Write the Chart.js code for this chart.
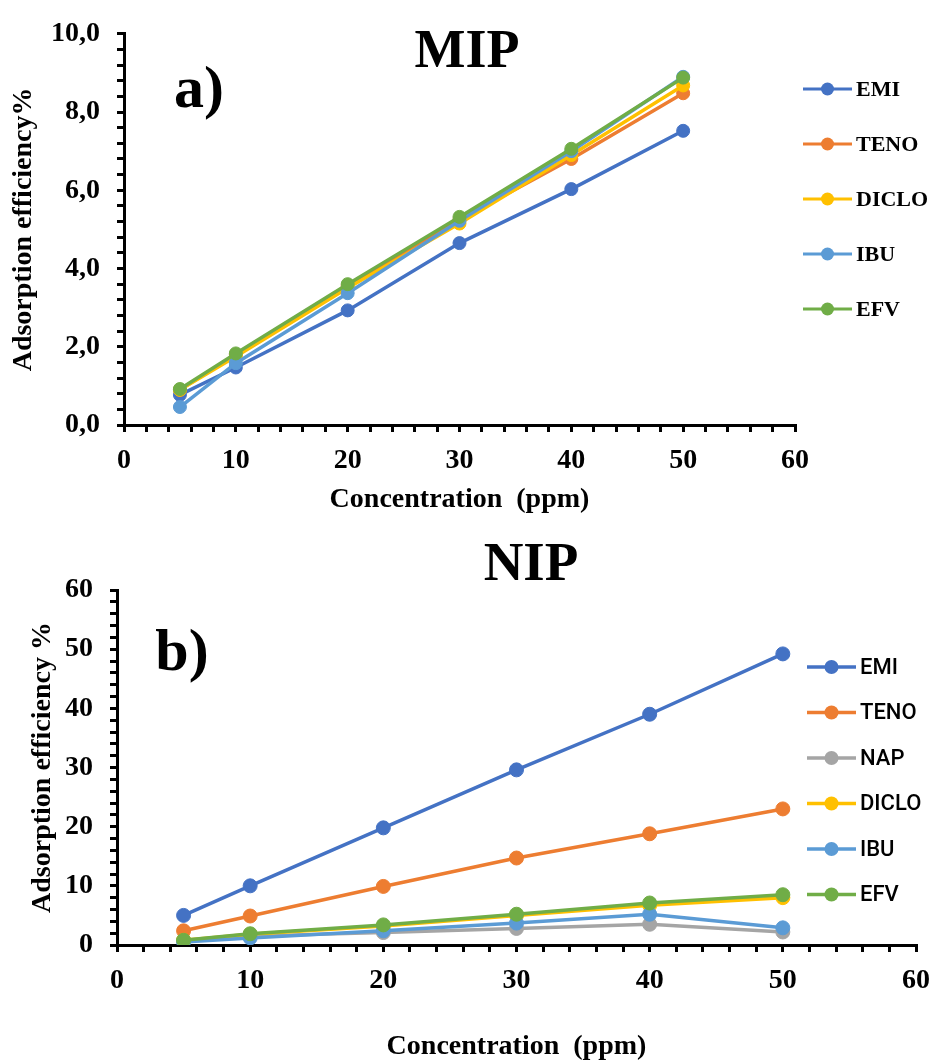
<!DOCTYPE html>
<html>
<head>
<meta charset="utf-8">
<script src="https://cdn.jsdelivr.net/npm/chart.js@4.4.1/dist/chart.umd.min.js"></script>
<style>
    body { margin: 0; background: #fff; }
    canvas { position: absolute; left: 0; }
    #mip { top: 0; }
    #nip { top: 530px; }
</style>
</head>
<body>
<canvas id="mip" width="932" height="520"></canvas>
<canvas id="nip" width="932" height="534"></canvas>
<script>
// data
const concentrations = [5, 10, 20, 30, 40, 50];

const mipLabels = ['EMI', 'TENO', 'DICLO', 'IBU', 'EFV'];
const mipEMI = [0.77, 1.47, 2.93, 4.65, 6.03, 7.52];
const mipTENO = [0.90, 1.80, 3.55, 5.25, 6.80, 8.48];
const mipDICLO = [0.90, 1.75, 3.50, 5.15, 6.90, 8.68];
const mipIBU = [0.46, 1.58, 3.37, 5.22, 7.00, 8.90];
const mipEFV = [0.92, 1.83, 3.60, 5.32, 7.06, 8.88];

const nipLabels = ['EMI', 'TENO', 'NAP', 'DICLO', 'IBU', 'EFV'];
const nipEMI = [5.0, 10.0, 19.8, 29.6, 39.0, 49.2];
const nipTENO = [2.4, 4.9, 9.9, 14.7, 18.8, 23.0];
const nipNAP = [0.7, 1.5, 2.1, 2.8, 3.5, 2.2];
const nipDICLO = [0.8, 1.8, 3.2, 5.0, 6.7, 8.0];
const nipIBU = [0.5, 1.2, 2.4, 3.7, 5.2, 2.9];
const nipEFV = [0.8, 1.9, 3.4, 5.2, 7.1, 8.5];

const colors = {
    EMI: '#4472C4', TENO: '#ED7D31', NAP: '#A5A5A5',
    DICLO: '#FFC000', IBU: '#5B9BD5', EFV: '#70AD47'
};

const serif = "'Liberation Serif', 'Times New Roman', serif";

const toPoints = (ys) => concentrations.map((x, i) => ({ x, y: ys[i] }));

const makeDatasets = (labels, series, radius, width) => labels.map((label, i) => ({
    label,
    data: toPoints(series[i]),
    borderColor: colors[label],
    backgroundColor: colors[label],
    borderWidth: width,
    pointRadius: radius,
    pointHoverRadius: radius,
    pointBorderWidth: 1,
    order: labels.length - i   // last series drawn on top, like the original
}));

// titles ("MIP", "a)") and the line+dot legend
const decorPlugin = {
    id: 'decor',
    afterDraw(chart, args, opts) {
        const ctx = chart.ctx;
        ctx.save();
        ctx.fillStyle = '#000';
        ctx.textAlign = 'center';
        ctx.textBaseline = 'alphabetic';
        ctx.font = `bold ${opts.titleSize}px ${serif}`;
        ctx.fillText(opts.title, opts.titleX, opts.titleY);
        ctx.font = `bold 60px ${serif}`;
        ctx.fillText(opts.tag, opts.tagX, opts.tagY);

        const lg = opts.legend;
        ctx.textAlign = 'left';
        ctx.textBaseline = 'middle';
        ctx.font = lg.font;
        chart.data.datasets.forEach((ds, i) => {
            const y = lg.y0 + i * lg.step;
            ctx.strokeStyle = ds.borderColor;
            ctx.lineWidth = lg.lineWidth;
            ctx.beginPath();
            ctx.moveTo(lg.x1, y);
            ctx.lineTo(lg.x2, y);
            ctx.stroke();
            ctx.fillStyle = ds.backgroundColor;
            ctx.beginPath();
            ctx.arc((lg.x1 + lg.x2) / 2, y, lg.radius, 0, Math.PI * 2);
            ctx.fill();
            ctx.fillStyle = '#000';
            ctx.fillText(ds.label, lg.textX, y + 1);
        });
        ctx.restore();
    }
};

const axisGrid = {
    display: true,
    drawOnChartArea: false,
    drawTicks: true,
    tickLength: 7,
    tickColor: '#000',
    tickWidth: 3,
    lineWidth: 3,
    color: '#000'
};
const axisBorder = { display: true, color: '#000', width: 3 };

function buildChart(canvasId, cfg) {
    return new Chart(document.getElementById(canvasId), {
        type: 'line',
        data: { datasets: cfg.datasets },
        options: {
            responsive: false,
            animation: false,
            layout: { padding: cfg.padding },
            plugins: {
                legend: { display: false },
                tooltip: { enabled: false },
                decor: cfg.decor
            },
            scales: {
                x: {
                    type: 'linear',
                    min: 0, max: 60,
                    grid: axisGrid,
                    border: axisBorder,
                    afterFit: (s) => {
                        s.height = cfg.xHeight;
                        s.paddingRight = cfg.padding.right;
                    },
                    ticks: {
                        stepSize: 2,
                        autoSkip: false,
                        maxRotation: 0,
                        padding: cfg.xTickPad,
                        color: '#000',
                        font: { family: serif, weight: 'bold', size: 28 },
                        callback: (v) => (v % 10 === 0 ? String(v) : '')
                    },
                    title: {
                        display: true,
                        text: 'Concentration  (ppm)',
                        color: '#000',
                        font: { family: serif, weight: 'bold', size: 28 },
                        padding: { top: 0, bottom: cfg.xTitlePad }
                    }
                },
                y: {
                    min: 0, max: cfg.yMax,
                    grid: axisGrid,
                    border: axisBorder,
                    afterFit: (s) => { s.width = cfg.yWidth; },
                    ticks: {
                        stepSize: cfg.yStep,
                        autoSkip: false,
                        padding: 17,
                        color: '#000',
                        font: { family: serif, weight: 'bold', size: 28 },
                        callback: cfg.yLabel
                    },
                    title: {
                        display: true,
                        text: cfg.yTitle,
                        color: '#000',
                        font: { family: serif, weight: 'bold', size: 28 },
                        padding: { top: cfg.yTitlePad, bottom: 0 }
                    }
                }
            }
        },
        plugins: [decorPlugin]
    });
}

buildChart('mip', {
    datasets: makeDatasets(mipLabels, [mipEMI, mipTENO, mipDICLO, mipIBU, mipEFV], 6.5, 3.5),
    padding: { left: 0, right: 137, top: 27, bottom: 0 },
    xHeight: 95,
    yWidth: 124,
    xTickPad: 12,
    xTitlePad: 3,
    yTitlePad: 7,
    yMax: 10,
    yStep: 0.4,
    yLabel: (v, i) => (i % 5 === 0 ? v.toFixed(1).replace('.', ',') : ''),
    yTitle: 'Adsorption efficiency%',
    decor: {
        title: 'MIP', titleSize: 54, titleX: 467, titleY: 67,
        tag: 'a)', tagX: 199, tagY: 107,
        legend: {
            font: `bold 22px ${serif}`,
            x1: 803, x2: 852, textX: 856, y0: 89, step: 55,
            lineWidth: 3, radius: 6.5
        }
    }
});

buildChart('nip', {
    datasets: makeDatasets(nipLabels, [nipEMI, nipTENO, nipNAP, nipDICLO, nipIBU, nipEFV], 7, 3.5),
    padding: { left: 0, right: 16, top: 60, bottom: 0 },
    xHeight: 119,
    yWidth: 117,
    xTickPad: 12,
    xTitlePad: 0,
    yTitlePad: 26,
    yMax: 60,
    yStep: 2,
    yLabel: (v) => (v % 10 === 0 ? String(v) : ''),
    yTitle: 'Adsorption efficiency %',
    decor: {
        title: 'NIP', titleSize: 55, titleX: 531, titleY: 50,
        tag: 'b)', tagX: 182, tagY: 140,
        legend: {
            font: "500 22px Roboto, 'Noto Sans', sans-serif",
            x1: 807, x2: 856, textX: 860, y0: 137, step: 45.5,
            lineWidth: 3.5, radius: 7
        }
    }
});
</script>
</body>
</html>
